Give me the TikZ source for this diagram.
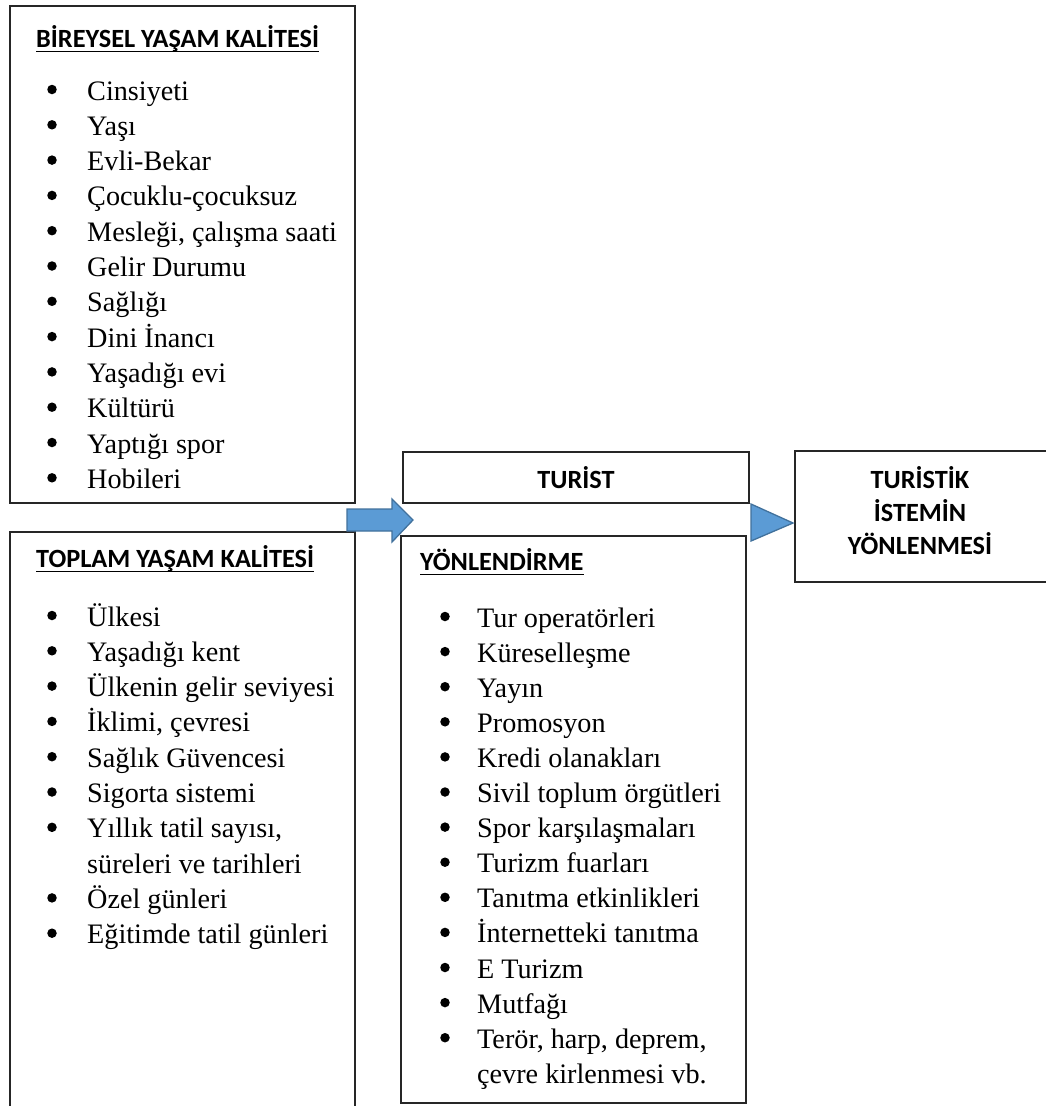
\documentclass[tikz,border=0pt]{standalone}
\usepackage{fontspec}
\setmainfont{Liberation Serif}
\newfontfamily\hdfont{Carlito}
\definecolor{arrowblue}{HTML}{5B9BD5}
\definecolor{arrowedge}{HTML}{41719C}
\begin{document}
\begin{tikzpicture}[x=1pt,y=-1pt,
  boxline/.style={draw=black!85, line width=1.4pt},
  hd/.style={font=\hdfont\bfseries\fontsize{26.3}{31}\selectfont, inner sep=0pt, anchor=base west},
  hdc/.style={font=\hdfont\bfseries\fontsize{26.3}{31}\selectfont, inner sep=0pt, anchor=base},
  item/.style={font=\fontsize{28.2}{35}\selectfont, inner sep=0pt, anchor=base west},
  bul/.style={circle, fill=black, inner sep=0pt, minimum size=9.5pt},
  uline/.style={line width=1.8pt},
  blk/.style={fill=arrowblue, draw=arrowedge, line width=1.3pt, line join=miter}]
\useasboundingbox (0,0) rectangle (1045,1106);
\fill[white] (0,0) rectangle (1045,1106);

% Box 1
\draw[boxline] (10,6) rectangle (355,503);
\node[hd] (h1) at (36,47) {BİREYSEL YAŞAM KALİTESİ};
\draw[uline] ([yshift=-4.5pt]h1.base west) -- ([yshift=-4.5pt]h1.base east);
\foreach \t [count=\i from 0] in {Cinsiyeti, Yaşı, Evli-Bekar, Çocuklu-çocuksuz, {Mesleği, çalışma saati}, Gelir Durumu, Sağlığı, Dini İnancı, Yaşadığı evi, Kültürü, Yaptığı spor, Hobileri}{
  \node[item] (a\i) at (87,{100+35.3*\i}) {\t};
  \node[bul] (ab\i) at (52,{100+35.3*\i-10.5}) {};
}

% Box 2 (open at bottom)
\draw[boxline] (10,1110) -- (10,532) -- (355,532) -- (355,1110);
\node[hd] (h2) at (36,567) {TOPLAM YAŞAM KALİTESİ};
\draw[uline] ([yshift=-4.5pt]h2.base west) -- ([yshift=-4.5pt]h2.base east);
\foreach \t/\b [count=\i from 0] in {Ülkesi/1, Yaşadığı kent/1, Ülkenin gelir seviyesi/1, {İklimi, çevresi}/1, Sağlık Güvencesi/1, Sigorta sistemi/1, {Yıllık tatil sayısı,}/1, süreleri ve tarihleri/0, Özel günleri/1, Eğitimde tatil günleri/1}{
  \node[item] (b\i) at (87,{626+35.3*\i}) {\t};
  \ifnum\b=1 \node[bul] (bb\i) at (52,{626+35.3*\i-10.5}) {};\fi
}

% TURIST box
\draw[boxline] (403,452) rectangle (749,503);
\node[hdc] (tur) at (576,488) {TURİST};

% YONLENDIRME box
\draw[boxline] (401,536) rectangle (746,1103);
\node[hd] (h3) at (420,570) {YÖNLENDİRME};
\draw[uline] ([yshift=-4.5pt]h3.base west) -- ([yshift=-4.5pt]h3.base east);
\foreach \t/\b [count=\i from 0] in {Tur operatörleri/1, Küreselleşme/1, Yayın/1, Promosyon/1, Kredi olanakları/1, Sivil toplum örgütleri/1, Spor karşılaşmaları/1, Turizm fuarları/1, Tanıtma etkinlikleri/1, İnternetteki tanıtma/1, E Turizm/1, Mutfağı/1, {Terör, harp, deprem,}/1, çevre kirlenmesi vb./0}{
  \node[item] (c\i) at (477,{627+35.1*\i}) {\t};
  \ifnum\b=1 \node[bul] (cb\i) at (445,{627+35.1*\i-10.5}) {};\fi
}

% TURISTIK box (open at right)
\draw[boxline] (1050,451) -- (795,451) -- (795,582) -- (1050,582);
\node[hdc] (t1) at (920,488) {TURİSTİK};
\node[hdc] (t2) at (920,521) {İSTEMİN};
\node[hdc] (t3) at (920,554) {YÖNLENMESİ};

% arrows
\draw[blk] (347,509) -- (392,509) -- (392,499) -- (413,520) -- (392,542) -- (392,531) -- (347,531) -- cycle;
\draw[blk] (751,504) -- (793,523) -- (751,541) -- cycle;
\end{tikzpicture}
\end{document}
